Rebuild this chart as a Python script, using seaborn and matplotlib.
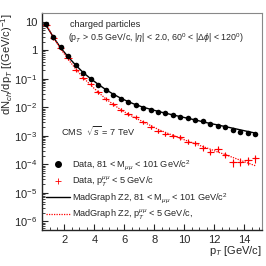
import matplotlib
matplotlib.use("Agg")
import matplotlib.pyplot as plt
import matplotlib.ticker as mticker
from matplotlib.lines import Line2D
import numpy as np
import pandas as pd
import seaborn as sns

# bin centres (GeV/c)
pt = [0.75, 1.25, 1.75, 2.25, 2.75, 3.25, 3.75, 4.25, 4.75, 5.25,
      5.75, 6.25, 6.75, 7.25, 7.75, 8.25, 8.75, 9.25, 9.75, 10.25,
      10.75, 11.25, 11.75, 12.25, 12.75, 13.25, 13.75, 14.25, 14.75]

# Data, 81 < M_mumu < 101
data_z = [8.0, 3.0, 1.25, 0.62, 0.31, 0.165, 0.10, 0.062, 0.041, 0.027,
          0.020, 0.015, 0.0118, 0.0098, 0.0083, 0.0071, 0.0061, 0.0052, 0.0047, 0.0041,
          0.0035, 0.0032, 0.0026, 0.0022, 0.0020, 0.0016, 0.0014, 0.0013, 0.0012]

# Data, pT^mumu < 5
data_lo = [7.6, 2.7, 1.2, 0.55, 0.21, 0.11, 0.063, 0.033, 0.019, 0.0126,
           0.0083, 0.0060, 0.0044, 0.0030, 0.0021, 0.0015, 0.0012, 0.0010, 0.00088, 0.00063,
           0.00054, 0.00039, 0.00028, 0.00036, 0.00022, 0.000117, 0.000126, 0.000137, 0.000162]
data_lo_relerr = [0.03, 0.03, 0.03, 0.04, 0.05, 0.06, 0.07, 0.08, 0.09, 0.10,
                  0.11, 0.12, 0.13, 0.14, 0.15, 0.16, 0.17, 0.18, 0.19, 0.20,
                  0.21, 0.22, 0.24, 0.22, 0.26, 0.32, 0.32, 0.32, 0.30]

# MadGraph Z2 predictions
mc_z = [7.8, 2.9, 1.2, 0.58, 0.30, 0.165, 0.100, 0.064, 0.042, 0.029,
        0.021, 0.0158, 0.0124, 0.0101, 0.0085, 0.0072, 0.0062, 0.0054, 0.0047, 0.0041,
        0.0036, 0.0031, 0.0027, 0.0024, 0.0021, 0.00185, 0.00162, 0.00142, 0.00125]
mc_lo = [8.5, 2.8, 1.1, 0.48, 0.22, 0.11, 0.060, 0.034, 0.020, 0.0127,
         0.0083, 0.0058, 0.0042, 0.0031, 0.0023, 0.0017, 0.00132, 0.00104, 0.00082, 0.00065,
         0.00052, 0.00042, 0.00034, 0.00027, 0.00022, 0.000175, 0.000140, 0.000112, 0.000090]

lbl_data_z = r"Data, 81 < M$_{\mu\mu}$ < 101 GeV/c$^{2}$"
lbl_data_lo = r"Data, p$_{T}^{\mu\mu}$ < 5 GeV/c"
lbl_mc_z = r"MadGraph Z2, 81 < M$_{\mu\mu}$ < 101 GeV/c$^{2}$"
lbl_mc_lo = r"MadGraph Z2, p$_{T}^{\mu\mu}$ < 5 GeV/c,"

sns.set_style("ticks")
plt.rcParams["font.family"] = ["Liberation Sans", "DejaVu Sans"]
plt.rcParams["mathtext.fontset"] = "custom"
plt.rcParams["mathtext.rm"] = "Liberation Sans"
plt.rcParams["mathtext.it"] = "Liberation Sans:italic"
plt.rcParams["mathtext.sf"] = "Liberation Sans"

df = pd.DataFrame({"pt": pt, "data_z": data_z, "data_lo": data_lo,
                   "mc_z": mc_z, "mc_lo": mc_lo})
df["err_lo"] = df["data_lo"] * np.array(data_lo_relerr)

fig = plt.figure(figsize=(2.66, 2.66), dpi=100)
ax = fig.add_axes([0.158, 0.135, 0.827, 0.816])

sns.lineplot(data=df, x="pt", y="mc_z", ax=ax, color="black", lw=1.0)
sns.lineplot(data=df, x="pt", y="mc_lo", ax=ax, color="red", lw=0.9,
             linestyle=(0, (1, 1)))
ax.errorbar(df["pt"], df["data_lo"], xerr=0.25, yerr=df["err_lo"],
            fmt="+", color="red", ms=3, elinewidth=0.8, mew=0.8)
sns.scatterplot(data=df, x="pt", y="data_z", ax=ax, color="black", s=16,
                edgecolor="black", linewidth=0, zorder=5)

ax.set_yscale("log")
ax.set_xlim(0.5, 15.2)
ax.set_ylim(5e-7, 20)

def fmt_y(v, pos):
    e = int(round(np.log10(v)))
    if e == 1:
        return "10"
    if e == 0:
        return "1"
    return r"$10^{%d}$" % e

ax.yaxis.set_major_locator(mticker.FixedLocator([10.0 ** e for e in range(-6, 2)]))
ax.yaxis.set_major_formatter(mticker.FuncFormatter(fmt_y))
ax.yaxis.set_minor_locator(mticker.LogLocator(base=10, subs=np.arange(2, 10), numticks=20))
ax.yaxis.set_minor_formatter(mticker.NullFormatter())
ax.xaxis.set_major_locator(mticker.MultipleLocator(2))
ax.xaxis.set_minor_locator(mticker.MultipleLocator(0.5))

ax.tick_params(which="both", direction="in", labelsize=8, top=False, right=False)
ax.tick_params(which="major", length=4, width=0.8)
ax.tick_params(which="minor", length=2, width=0.6)
for s in ["top", "right"]:
    ax.spines[s].set_color("#888888")
    ax.spines[s].set_linewidth(0.8)
for s in ["left", "bottom"]:
    ax.spines[s].set_linewidth(1.0)

ax.set_xlabel(r"p$_{T}$ [GeV/c]", fontsize=8, loc="right")
ax.xaxis.set_label_coords(1.0, -0.065)
ax.set_ylabel(r"dN$_{ch}$/dp$_{T}$ [(GeV/c)$^{-1}$]", fontsize=8, loc="top")
ax.yaxis.set_label_coords(-0.125, 1.0)

ax.text(0.125, 0.935, "charged particles", transform=ax.transAxes, fontsize=6.6)
ax.text(0.118, 0.87,
        r"(p$_{T}$ > 0.5 GeV/c, |$\eta$| < 2.0, 60$^{0}$ < |$\Delta\phi$| < 120$^{0}$)",
        transform=ax.transAxes, fontsize=6.4)
ax.text(0.085, 0.435, r"CMS  $\sqrt{s}$ = 7 TeV", transform=ax.transAxes, fontsize=6.6)

handles = [
    Line2D([], [], color="black", marker="o", ms=4, ls="none"),
    Line2D([], [], color="red", marker="+", ms=4, mew=0.6, ls="none"),
    Line2D([], [], color="black", lw=1.0),
    Line2D([], [], color="red", lw=0.9, ls=(0, (1, 1))),
]
ax.legend(handles, [lbl_data_z, lbl_data_lo, lbl_mc_z, lbl_mc_lo], loc="upper left",
          bbox_to_anchor=(0.0, 0.35), frameon=False, fontsize=6.6,
          handlelength=2.6, handletextpad=0.3, labelspacing=0.3, borderaxespad=0)

fig.savefig("out.png", dpi=100)
